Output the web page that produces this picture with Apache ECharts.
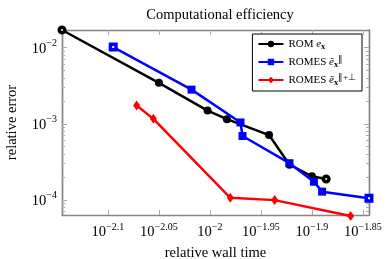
<!DOCTYPE html>
<html>
<head>
<meta charset="utf-8">
<script src="https://cdn.jsdelivr.net/npm/echarts@6/dist/echarts.min.js"></script>
<style>html,body{margin:0;padding:0;background:#fff;}#c{width:391px;height:259px;}</style>
</head>
<body>
<div id="c"></div>
<script>
// log10 of relative wall time (x) and relative error (y)
const romLogTime   = [-2.145, -2.05, -2.0023, -1.9833, -1.942, -1.922, -1.900, -1.886];
const romError     = [0.0171, 0.00345, 0.00149, 0.00115, 0.00071, 0.00029, 0.000204, 0.000188];
const romesLogTime = [-2.0948, -2.018, -1.970, -1.968, -1.922, -1.898, -1.890, -1.844];
const romesError   = [0.0102, 0.00281, 0.00104, 0.00069, 0.000303, 0.000173, 0.000128, 0.000105];
const romes2LogTime = [-2.0718, -2.0554, -1.980, -1.9365, -1.862];
const romes2Error   = [0.00174, 0.00116, 0.000106, 0.0000990, 0.0000612];
const xTickExps = [-2.1, -2.05, -2, -1.95, -1.9, -1.85];
const xTickLabels = ['-2.1', '-2.05', '-2', '-1.95', '-1.9', '-1.85'];
const yTickExps = [-4, -3, -2];
const yTickLabels = ['-4', '-3', '-2'];

const X_MIN = -2.145, X_MAX = -1.844, Y_MIN = -4.2, Y_MAX = -1.767;
const FONT = 'Liberation Serif';
const GRAY = '#858585';

const yMinor = [];
for (let d = -5; d <= -2; d++) for (let k = 2; k <= 9; k++) {
  const v = d + Math.log10(k);
  if (v > Y_MIN && v < Y_MAX) yMinor.push(v);
}

function pairs(xs, ys, color, hollowIdx) {
  return xs.map((x, i) => {
    const o = { value: [x, Math.log10(ys[i])] };
    if (hollowIdx.indexOf(i) >= 0) o.itemStyle = { color: '#fff', borderColor: color, borderWidth: 3.5 };
    if (hollowIdx.indexOf(i) >= 0) o.symbolSize = 5.5;
    return o;
  });
}

const rich = {
  b: { fontFamily: FONT, fontSize: 14.5, color: '#000', verticalAlign: 'bottom', lineHeight: 18 },
  s: { fontFamily: FONT, fontSize: 10, color: '#000', verticalAlign: 'top', lineHeight: 18, padding: [0, 0, 9, 0] }
};

const chart = echarts.init(document.getElementById('c'), null, { renderer: 'canvas' });
function fmtLabel(exps, labs) {
  return v => { const i = exps.findIndex(t => Math.abs(t - v) < 1e-6); return '{b|10}{s|' + (i >= 0 ? '−' + labs[i].slice(1) : '') + '}'; };
}
function yAxisDef(pos, vals, len, labels) {
  return {
    type: 'value', position: pos, min: Y_MIN, max: Y_MAX,
    axisLine: { show: true, lineStyle: { color: GRAY, width: 1.4 } },
    axisTick: { show: true, inside: true, length: len, customValues: vals, lineStyle: { color: '#aaa', width: 1 } },
    axisLabel: labels ? { show: true, customValues: yTickExps, margin: 5, formatter: fmtLabel(yTickExps, yTickLabels), rich: rich } : { show: false },
    splitLine: { show: false },
    name: labels ? 'relative error' : '', nameLocation: 'middle', nameGap: 42,
    nameTextStyle: { fontFamily: FONT, fontSize: 14.5, color: '#000' }
  };
}
function xAxisDef(pos, labels) {
  return {
    type: 'value', position: pos, min: X_MIN, max: X_MAX,
    axisLine: { show: true, lineStyle: { color: GRAY, width: 1.4 } },
    axisTick: { show: true, inside: true, length: 5, customValues: xTickExps, lineStyle: { color: '#aaa', width: 1 } },
    axisLabel: labels ? { show: true, customValues: xTickExps, margin: 7, formatter: fmtLabel(xTickExps, xTickLabels), rich: rich } : { show: false },
    splitLine: { show: false },
    name: labels ? 'relative wall time' : '', nameLocation: 'middle', nameGap: 30,
    nameTextStyle: { fontFamily: FONT, fontSize: 14.5, color: '#000' }
  };
}

const legRich = {
  t: { fontFamily: FONT, fontSize: 11, color: '#000' },
  i: { fontFamily: FONT, fontSize: 11, fontStyle: 'italic', color: '#000' },
  x: { fontFamily: FONT, fontSize: 8.5, fontWeight: 'bold', color: '#000', verticalAlign: 'bottom', lineHeight: 14, padding: [4, 0, 0, 0] },
  p: { fontFamily: FONT, fontSize: 8.5, color: '#000', verticalAlign: 'top', lineHeight: 14, padding: [0, 0, 4, 0] }
};
const legendNames = ['ROM', 'ROMES1', 'ROMES2'];
const legendFmt = {
  ROM: '{t|ROM }{i|e}{x|x}',
  ROMES1: '{t|ROMES }{i|ẽ}{x|x}{p|∥}',
  ROMES2: '{t|ROMES }{i|ẽ}{x|x}{p|∥+⊥}'
};

chart.setOption({
  animation: false,
  title: { text: 'Computational efficiency', left: 215, top: 3, textAlign: 'center',
    textStyle: { fontFamily: FONT, fontSize: 14.5, fontWeight: 'normal', color: '#000' } },
  grid: { left: 62, right: 22, top: 30, bottom: 44, outerBoundsMode: 'none', containLabel: false },
  legend: {
    right: 29, top: 34, orient: 'vertical', itemWidth: 25, itemHeight: 8, itemGap: 4,
    padding: [4, 6, 4, 5],
    borderColor: '#000', borderWidth: 1, backgroundColor: '#fff',
    data: legendNames,
    formatter: n => legendFmt[n],
    textStyle: { rich: legRich }
  },
  xAxis: [xAxisDef('bottom', true), xAxisDef('top', false)],
  yAxis: [
    yAxisDef('left', yTickExps, 5, true),
    yAxisDef('left', yMinor, 3, false),
    yAxisDef('right', yTickExps, 5, false),
    yAxisDef('right', yMinor, 3, false)
  ],
  series: [
    { name: 'ROM', type: 'line', data: pairs(romLogTime, romError, '#000', [0, romError.length - 1]),
      symbol: 'circle', symbolSize: 8, color: '#000', lineStyle: { width: 2.5, color: '#000' },
      itemStyle: { color: '#000' }, clip: false, z: 3 },
    { name: 'ROMES1', type: 'line', data: pairs(romesLogTime, romesError, '#0000ff', [0, romesError.length - 1]),
      symbol: 'rect', symbolSize: 8, color: '#0000ff', lineStyle: { width: 2.5, color: '#0000ff' },
      itemStyle: { color: '#0000ff' }, clip: false, z: 4 },
    { name: 'ROMES2', type: 'line', data: pairs(romes2LogTime, romes2Error, '#ff0000', []),
      symbol: 'diamond', symbolSize: [7, 10], color: '#ff0000', lineStyle: { width: 2.5, color: '#ff0000' },
      itemStyle: { color: '#ff0000' }, clip: false, z: 5 }
  ]
});
</script>
</body>
</html>
